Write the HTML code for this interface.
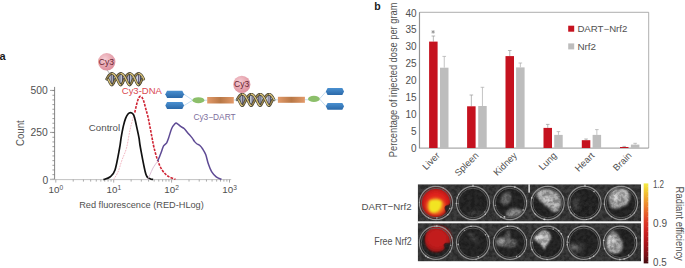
<!DOCTYPE html>
<html><head><meta charset="utf-8"><style>
html,body{margin:0;padding:0;background:#fff;width:685px;height:268px;overflow:hidden;}
svg{display:block;}
text{font-family:"Liberation Sans", sans-serif;}
</style></head><body>
<svg width="685" height="268" viewBox="0 0 685 268">
<text x="-0.6" y="59.6" font-size="11" font-weight="bold" fill="#1a1a1a">a</text>
<line x1="54.6" y1="86.9" x2="54.6" y2="179.6" stroke="#666" stroke-width="0.8"/>
<line x1="52.4" y1="179.30" x2="54.6" y2="179.30" stroke="#777" stroke-width="0.7"/>
<line x1="52.4" y1="174.63" x2="54.6" y2="174.63" stroke="#777" stroke-width="0.7"/>
<line x1="52.4" y1="169.96" x2="54.6" y2="169.96" stroke="#777" stroke-width="0.7"/>
<line x1="52.4" y1="165.29" x2="54.6" y2="165.29" stroke="#777" stroke-width="0.7"/>
<line x1="52.4" y1="160.62" x2="54.6" y2="160.62" stroke="#777" stroke-width="0.7"/>
<line x1="52.4" y1="155.95" x2="54.6" y2="155.95" stroke="#777" stroke-width="0.7"/>
<line x1="52.4" y1="151.28" x2="54.6" y2="151.28" stroke="#777" stroke-width="0.7"/>
<line x1="52.4" y1="146.61" x2="54.6" y2="146.61" stroke="#777" stroke-width="0.7"/>
<line x1="52.4" y1="141.94" x2="54.6" y2="141.94" stroke="#777" stroke-width="0.7"/>
<line x1="52.4" y1="137.27" x2="54.6" y2="137.27" stroke="#777" stroke-width="0.7"/>
<line x1="52.4" y1="132.60" x2="54.6" y2="132.60" stroke="#777" stroke-width="0.7"/>
<line x1="52.4" y1="127.93" x2="54.6" y2="127.93" stroke="#777" stroke-width="0.7"/>
<line x1="52.4" y1="123.26" x2="54.6" y2="123.26" stroke="#777" stroke-width="0.7"/>
<line x1="52.4" y1="118.59" x2="54.6" y2="118.59" stroke="#777" stroke-width="0.7"/>
<line x1="52.4" y1="113.92" x2="54.6" y2="113.92" stroke="#777" stroke-width="0.7"/>
<line x1="52.4" y1="109.25" x2="54.6" y2="109.25" stroke="#777" stroke-width="0.7"/>
<line x1="52.4" y1="104.58" x2="54.6" y2="104.58" stroke="#777" stroke-width="0.7"/>
<line x1="52.4" y1="99.91" x2="54.6" y2="99.91" stroke="#777" stroke-width="0.7"/>
<line x1="52.4" y1="95.24" x2="54.6" y2="95.24" stroke="#777" stroke-width="0.7"/>
<line x1="52.4" y1="90.57" x2="54.6" y2="90.57" stroke="#777" stroke-width="0.7"/>
<line x1="50.0" y1="90.40" x2="54.6" y2="90.40" stroke="#777" stroke-width="0.7"/>
<line x1="50.0" y1="132.40" x2="54.6" y2="132.40" stroke="#777" stroke-width="0.7"/>
<line x1="50.0" y1="179.30" x2="54.6" y2="179.30" stroke="#777" stroke-width="0.7"/>
<text x="47.8" y="94.0" font-size="10.3" fill="#505050" text-anchor="end" textLength="17.2" lengthAdjust="spacingAndGlyphs">500</text>
<text x="47.8" y="136.4" font-size="10.3" fill="#505050" text-anchor="end" textLength="17.2" lengthAdjust="spacingAndGlyphs">250</text>
<text x="48.2" y="183.5" font-size="10.3" fill="#505050" text-anchor="end">0</text>
<text transform="translate(23.9,133.1) rotate(-90)" font-size="10.3" fill="#505050" text-anchor="middle" textLength="25.8" lengthAdjust="spacingAndGlyphs">Count</text>
<line x1="50" y1="179.6" x2="231.2" y2="179.6" stroke="#bbb" stroke-width="0.9"/>
<line x1="55.80" y1="179.6" x2="55.80" y2="182.60" stroke="#888" stroke-width="0.7"/>
<line x1="73.23" y1="179.6" x2="73.23" y2="181.60" stroke="#888" stroke-width="0.7"/>
<line x1="83.43" y1="179.6" x2="83.43" y2="181.60" stroke="#888" stroke-width="0.7"/>
<line x1="90.66" y1="179.6" x2="90.66" y2="181.60" stroke="#888" stroke-width="0.7"/>
<line x1="96.27" y1="179.6" x2="96.27" y2="181.60" stroke="#888" stroke-width="0.7"/>
<line x1="100.85" y1="179.6" x2="100.85" y2="181.60" stroke="#888" stroke-width="0.7"/>
<line x1="104.73" y1="179.6" x2="104.73" y2="181.60" stroke="#888" stroke-width="0.7"/>
<line x1="108.09" y1="179.6" x2="108.09" y2="181.60" stroke="#888" stroke-width="0.7"/>
<line x1="111.05" y1="179.6" x2="111.05" y2="181.60" stroke="#888" stroke-width="0.7"/>
<line x1="113.70" y1="179.6" x2="113.70" y2="182.60" stroke="#888" stroke-width="0.7"/>
<line x1="131.13" y1="179.6" x2="131.13" y2="181.60" stroke="#888" stroke-width="0.7"/>
<line x1="141.33" y1="179.6" x2="141.33" y2="181.60" stroke="#888" stroke-width="0.7"/>
<line x1="148.56" y1="179.6" x2="148.56" y2="181.60" stroke="#888" stroke-width="0.7"/>
<line x1="154.17" y1="179.6" x2="154.17" y2="181.60" stroke="#888" stroke-width="0.7"/>
<line x1="158.75" y1="179.6" x2="158.75" y2="181.60" stroke="#888" stroke-width="0.7"/>
<line x1="162.63" y1="179.6" x2="162.63" y2="181.60" stroke="#888" stroke-width="0.7"/>
<line x1="165.99" y1="179.6" x2="165.99" y2="181.60" stroke="#888" stroke-width="0.7"/>
<line x1="168.95" y1="179.6" x2="168.95" y2="181.60" stroke="#888" stroke-width="0.7"/>
<line x1="171.60" y1="179.6" x2="171.60" y2="182.60" stroke="#888" stroke-width="0.7"/>
<line x1="189.03" y1="179.6" x2="189.03" y2="181.60" stroke="#888" stroke-width="0.7"/>
<line x1="199.23" y1="179.6" x2="199.23" y2="181.60" stroke="#888" stroke-width="0.7"/>
<line x1="206.46" y1="179.6" x2="206.46" y2="181.60" stroke="#888" stroke-width="0.7"/>
<line x1="212.07" y1="179.6" x2="212.07" y2="181.60" stroke="#888" stroke-width="0.7"/>
<line x1="216.65" y1="179.6" x2="216.65" y2="181.60" stroke="#888" stroke-width="0.7"/>
<line x1="220.53" y1="179.6" x2="220.53" y2="181.60" stroke="#888" stroke-width="0.7"/>
<line x1="223.89" y1="179.6" x2="223.89" y2="181.60" stroke="#888" stroke-width="0.7"/>
<line x1="226.85" y1="179.6" x2="226.85" y2="181.60" stroke="#888" stroke-width="0.7"/>
<line x1="229.50" y1="179.6" x2="229.50" y2="182.6" stroke="#888" stroke-width="0.7"/>
<text x="54.00" y="193.4" font-size="9.8" fill="#505050" text-anchor="middle">10</text>
<text x="59.50" y="190.0" font-size="6.6" fill="#505050">0</text>
<text x="111.90" y="193.4" font-size="9.8" fill="#505050" text-anchor="middle">10</text>
<text x="117.40" y="190.0" font-size="6.6" fill="#505050">1</text>
<text x="169.80" y="193.4" font-size="9.8" fill="#505050" text-anchor="middle">10</text>
<text x="175.30" y="190.0" font-size="6.6" fill="#505050">2</text>
<text x="227.70" y="193.4" font-size="9.8" fill="#505050" text-anchor="middle">10</text>
<text x="233.20" y="190.0" font-size="6.6" fill="#505050">3</text>
<text x="79.2" y="207.7" font-size="9.6" fill="#505050" textLength="124.6" lengthAdjust="spacingAndGlyphs">Red fluorescence (RED-HLog)</text>
<path d="M113.50,179.60 C114.25,178.33 116.58,175.27 118.00,172.00 C119.42,168.73 120.58,164.00 122.00,160.00 C123.42,156.00 125.17,153.00 126.50,148.00 C127.83,143.00 128.88,135.08 130.00,130.00 C131.12,124.92 132.40,120.42 133.20,117.50 C134.00,114.58 134.53,113.33 134.80,112.50" fill="none" stroke="#f0b0bc" stroke-width="0.9" stroke-dasharray="1.8 1.0"/>
<path d="M134.80,112.50 C135.10,111.17 136.00,106.82 136.60,104.50 C137.20,102.18 137.80,99.95 138.40,98.60 C139.00,97.25 139.57,96.53 140.20,96.40 C140.83,96.27 141.57,96.87 142.20,97.80 C142.83,98.73 143.42,100.22 144.00,102.00 C144.58,103.78 145.03,106.00 145.70,108.50 C146.37,111.00 147.28,113.92 148.00,117.00 C148.72,120.08 149.33,123.58 150.00,127.00 C150.67,130.42 151.33,134.07 152.00,137.50 C152.67,140.93 153.05,143.77 154.00,147.60 C154.95,151.43 156.32,156.72 157.70,160.50 C159.08,164.28 160.53,167.67 162.30,170.30 C164.07,172.93 166.10,174.80 168.30,176.30 C170.50,177.80 174.30,178.80 175.50,179.30" fill="none" stroke="#cf2232" stroke-width="1.6" stroke-dasharray="2.6 1.2"/>
<path d="M103.40,179.60 C104.50,179.17 108.07,178.60 110.00,177.00 C111.93,175.40 113.40,174.83 115.00,170.00 C116.60,165.17 118.58,153.35 119.60,148.00 C120.62,142.65 120.47,141.58 121.10,137.90 C121.73,134.22 122.65,129.15 123.40,125.90 C124.15,122.65 124.83,120.38 125.60,118.40 C126.37,116.42 127.18,114.97 128.00,114.00 C128.82,113.03 129.67,112.60 130.50,112.60 C131.33,112.60 132.32,113.15 133.00,114.00 C133.68,114.85 133.97,115.47 134.60,117.70 C135.23,119.93 136.07,124.03 136.80,127.40 C137.53,130.77 138.38,134.47 139.00,137.90 C139.62,141.33 139.35,141.93 140.50,148.00 C141.65,154.07 144.32,169.20 145.90,174.30 C147.48,179.40 148.80,177.73 150.00,178.60 C151.20,179.47 152.58,179.35 153.10,179.50" fill="none" stroke="#111" stroke-width="1.7"/>
<path d="M147.20,179.60 C147.65,178.82 148.93,176.83 149.90,174.90 C150.87,172.97 151.70,170.30 153.00,168.00 C154.30,165.70 156.92,162.25 157.70,161.10" fill="none" stroke="#dcbfd6" stroke-width="1.0"/>
<path d="M157.70,161.10 C158.08,160.17 159.33,157.20 160.00,155.50 C160.67,153.80 161.10,152.50 161.70,150.90 C162.30,149.30 162.77,147.25 163.60,145.90 C164.43,144.55 165.87,144.13 166.70,142.80 C167.53,141.47 167.77,140.28 168.60,137.90 C169.43,135.52 170.67,130.82 171.70,128.50 C172.73,126.18 173.98,124.88 174.80,124.00 C175.62,123.12 175.57,122.75 176.60,123.20 C177.63,123.65 179.75,125.82 181.00,126.70 C182.25,127.58 182.97,127.47 184.10,128.50 C185.23,129.53 186.47,131.33 187.80,132.90 C189.13,134.47 190.97,136.45 192.10,137.90 C193.23,139.35 193.77,140.58 194.60,141.60 C195.43,142.62 196.27,143.38 197.10,144.00 C197.93,144.62 198.67,144.47 199.60,145.30 C200.53,146.13 201.68,147.45 202.70,149.00 C203.72,150.55 204.77,152.13 205.70,154.60 C206.63,157.07 207.32,160.95 208.30,163.80 C209.28,166.65 210.28,169.52 211.60,171.70 C212.92,173.88 214.55,175.62 216.20,176.90 C217.85,178.18 220.62,178.98 221.50,179.40" fill="none" stroke="#5e4a94" stroke-width="1.5"/>
<text x="88.8" y="130.9" font-size="9.7" fill="#505050" textLength="31.4" lengthAdjust="spacingAndGlyphs">Control</text>
<text x="121.8" y="94.0" font-size="8.6" fill="#d9474f" textLength="40" lengthAdjust="spacingAndGlyphs">Cy3-DNA</text>
<text x="193.4" y="119.6" font-size="8.6" fill="#7d6e9c" textLength="42.2" lengthAdjust="spacingAndGlyphs">Cy3−DART</text>
<line x1="108.29" y1="77.44" x2="108.29" y2="80.96" stroke="#454c60" stroke-width="1.3"/><line x1="110.07" y1="74.59" x2="110.07" y2="83.81" stroke="#848ca4" stroke-width="1.3"/><line x1="111.85" y1="73.50" x2="111.85" y2="84.90" stroke="#565068" stroke-width="1.3"/><line x1="113.63" y1="74.59" x2="113.63" y2="83.81" stroke="#48546c" stroke-width="1.3"/><line x1="115.41" y1="77.44" x2="115.41" y2="80.96" stroke="#aab2c6" stroke-width="1.3"/><line x1="117.19" y1="80.96" x2="117.19" y2="77.44" stroke="#645a7a" stroke-width="1.3"/><line x1="118.97" y1="83.81" x2="118.97" y2="74.59" stroke="#454c60" stroke-width="1.3"/><line x1="120.75" y1="84.90" x2="120.75" y2="73.50" stroke="#848ca4" stroke-width="1.3"/><line x1="122.53" y1="83.81" x2="122.53" y2="74.59" stroke="#565068" stroke-width="1.3"/><line x1="124.31" y1="80.96" x2="124.31" y2="77.44" stroke="#48546c" stroke-width="1.3"/><line x1="126.09" y1="77.44" x2="126.09" y2="80.96" stroke="#aab2c6" stroke-width="1.3"/><line x1="127.87" y1="74.59" x2="127.87" y2="83.81" stroke="#645a7a" stroke-width="1.3"/><line x1="129.65" y1="73.50" x2="129.65" y2="84.90" stroke="#454c60" stroke-width="1.3"/><line x1="131.43" y1="74.59" x2="131.43" y2="83.81" stroke="#848ca4" stroke-width="1.3"/><line x1="133.21" y1="77.44" x2="133.21" y2="80.96" stroke="#565068" stroke-width="1.3"/><line x1="134.99" y1="80.96" x2="134.99" y2="77.44" stroke="#48546c" stroke-width="1.3"/><line x1="136.77" y1="83.81" x2="136.77" y2="74.59" stroke="#aab2c6" stroke-width="1.3"/><line x1="138.55" y1="84.90" x2="138.55" y2="73.50" stroke="#645a7a" stroke-width="1.3"/><line x1="140.33" y1="83.81" x2="140.33" y2="74.59" stroke="#454c60" stroke-width="1.3"/><line x1="142.11" y1="80.96" x2="142.11" y2="77.44" stroke="#848ca4" stroke-width="1.3"/><path d="M106.60,79.20 L106.75,78.90 L106.90,78.60 L107.05,78.31 L107.21,78.01 L107.37,77.72 L107.53,77.44 L107.69,77.16 L107.86,76.88 L108.02,76.61 L108.19,76.35 L108.36,76.10 L108.53,75.85 L108.71,75.61 L108.88,75.39 L109.06,75.17 L109.24,74.96 L109.42,74.77 L109.60,74.59 L109.78,74.42 L109.97,74.26 L110.15,74.12 L110.34,73.99 L110.52,73.88 L110.71,73.78 L110.90,73.69 L111.09,73.62 L111.28,73.57 L111.47,73.53 L111.66,73.51 L111.85,73.50 L112.04,73.51" fill="none" stroke="#3a382e" stroke-width="2.6" stroke-linecap="round"/><path d="M106.60,79.20 L106.75,78.90 L106.90,78.60 L107.05,78.31 L107.21,78.01 L107.37,77.72 L107.53,77.44 L107.69,77.16 L107.86,76.88 L108.02,76.61 L108.19,76.35 L108.36,76.10 L108.53,75.85 L108.71,75.61 L108.88,75.39 L109.06,75.17 L109.24,74.96 L109.42,74.77 L109.60,74.59 L109.78,74.42 L109.97,74.26 L110.15,74.12 L110.34,73.99 L110.52,73.88 L110.71,73.78 L110.90,73.69 L111.09,73.62 L111.28,73.57 L111.47,73.53 L111.66,73.51 L111.85,73.50 L112.04,73.51" fill="none" stroke="#a08a50" stroke-width="1.4" stroke-linecap="round"/><path d="M120.86,84.89 L120.96,84.87 L121.07,84.83 L121.18,84.78 L121.28,84.71 L121.39,84.62 L121.50,84.52 L121.61,84.41 L121.72,84.28 L121.83,84.14 L121.95,83.98 L122.06,83.81 L122.18,83.63 L122.29,83.44 L122.41,83.23 L122.53,83.01 L122.65,82.79 L122.77,82.55 L122.90,82.30 L123.03,82.05 L123.15,81.79 L123.28,81.52 L123.42,81.24 L123.55,80.96 L123.69,80.68 L123.83,80.39 L123.97,80.09 L124.11,79.80 L124.25,79.50 L124.40,79.20 L124.55,78.90 L124.70,78.60 L124.86,78.31 L125.01,78.01 L125.17,77.72 L125.33,77.44 L125.49,77.16 L125.66,76.88 L125.82,76.61 L125.99,76.35 L126.16,76.10 L126.33,75.85 L126.51,75.61 L126.68,75.39 L126.86,75.17 L127.04,74.96 L127.22,74.77 L127.40,74.59 L127.58,74.42 L127.77,74.26 L127.95,74.12 L128.14,73.99 L128.33,73.88 L128.51,73.78 L128.70,73.69 L128.89,73.62 L129.08,73.57 L129.27,73.53 L129.46,73.51 L129.65,73.50 L129.84,73.51" fill="none" stroke="#3a382e" stroke-width="2.6" stroke-linecap="round"/><path d="M120.86,84.89 L120.96,84.87 L121.07,84.83 L121.18,84.78 L121.28,84.71 L121.39,84.62 L121.50,84.52 L121.61,84.41 L121.72,84.28 L121.83,84.14 L121.95,83.98 L122.06,83.81 L122.18,83.63 L122.29,83.44 L122.41,83.23 L122.53,83.01 L122.65,82.79 L122.77,82.55 L122.90,82.30 L123.03,82.05 L123.15,81.79 L123.28,81.52 L123.42,81.24 L123.55,80.96 L123.69,80.68 L123.83,80.39 L123.97,80.09 L124.11,79.80 L124.25,79.50 L124.40,79.20 L124.55,78.90 L124.70,78.60 L124.86,78.31 L125.01,78.01 L125.17,77.72 L125.33,77.44 L125.49,77.16 L125.66,76.88 L125.82,76.61 L125.99,76.35 L126.16,76.10 L126.33,75.85 L126.51,75.61 L126.68,75.39 L126.86,75.17 L127.04,74.96 L127.22,74.77 L127.40,74.59 L127.58,74.42 L127.77,74.26 L127.95,74.12 L128.14,73.99 L128.33,73.88 L128.51,73.78 L128.70,73.69 L128.89,73.62 L129.08,73.57 L129.27,73.53 L129.46,73.51 L129.65,73.50 L129.84,73.51" fill="none" stroke="#a08a50" stroke-width="1.4" stroke-linecap="round"/><path d="M138.66,84.89 L138.76,84.87 L138.87,84.83 L138.98,84.78 L139.09,84.71 L139.20,84.62 L139.30,84.52 L139.41,84.41 L139.52,84.28 L139.64,84.14 L139.75,83.98 L139.86,83.81 L139.98,83.63 L140.09,83.44 L140.21,83.23 L140.33,83.01 L140.45,82.79 L140.58,82.55 L140.70,82.30 L140.83,82.05 L140.96,81.79 L141.09,81.52 L141.22,81.24 L141.35,80.96 L141.49,80.68 L141.63,80.39 L141.77,80.09 L141.91,79.80 L142.06,79.50 L142.20,79.20" fill="none" stroke="#3a382e" stroke-width="2.6" stroke-linecap="round"/><path d="M138.66,84.89 L138.76,84.87 L138.87,84.83 L138.98,84.78 L139.09,84.71 L139.20,84.62 L139.30,84.52 L139.41,84.41 L139.52,84.28 L139.64,84.14 L139.75,83.98 L139.86,83.81 L139.98,83.63 L140.09,83.44 L140.21,83.23 L140.33,83.01 L140.45,82.79 L140.58,82.55 L140.70,82.30 L140.83,82.05 L140.96,81.79 L141.09,81.52 L141.22,81.24 L141.35,80.96 L141.49,80.68 L141.63,80.39 L141.77,80.09 L141.91,79.80 L142.06,79.50 L142.20,79.20" fill="none" stroke="#a08a50" stroke-width="1.4" stroke-linecap="round"/><path d="M111.96,84.89 L112.06,84.87 L112.17,84.83 L112.28,84.78 L112.38,84.71 L112.49,84.62 L112.60,84.52 L112.71,84.41 L112.82,84.28 L112.93,84.14 L113.05,83.98 L113.16,83.81 L113.27,83.63 L113.39,83.44 L113.51,83.23 L113.63,83.01 L113.75,82.79 L113.87,82.55 L114.00,82.30 L114.12,82.05 L114.25,81.79 L114.38,81.52 L114.52,81.24 L114.65,80.96 L114.79,80.68 L114.93,80.39 L115.07,80.09 L115.21,79.80 L115.35,79.50 L115.50,79.20 L115.65,78.90 L115.80,78.60 L115.96,78.31 L116.11,78.01 L116.27,77.72 L116.43,77.44 L116.59,77.16 L116.76,76.88 L116.92,76.61 L117.09,76.35 L117.26,76.10 L117.43,75.85 L117.61,75.61 L117.78,75.39 L117.96,75.17 L118.14,74.96 L118.32,74.77 L118.50,74.59 L118.68,74.42 L118.87,74.26 L119.05,74.12 L119.24,73.99 L119.43,73.88 L119.61,73.78 L119.80,73.69 L119.99,73.62 L120.18,73.57 L120.37,73.53 L120.56,73.51 L120.75,73.50 L120.94,73.51" fill="none" stroke="#3a382e" stroke-width="2.6" stroke-linecap="round"/><path d="M111.96,84.89 L112.06,84.87 L112.17,84.83 L112.28,84.78 L112.38,84.71 L112.49,84.62 L112.60,84.52 L112.71,84.41 L112.82,84.28 L112.93,84.14 L113.05,83.98 L113.16,83.81 L113.27,83.63 L113.39,83.44 L113.51,83.23 L113.63,83.01 L113.75,82.79 L113.87,82.55 L114.00,82.30 L114.12,82.05 L114.25,81.79 L114.38,81.52 L114.52,81.24 L114.65,80.96 L114.79,80.68 L114.93,80.39 L115.07,80.09 L115.21,79.80 L115.35,79.50 L115.50,79.20 L115.65,78.90 L115.80,78.60 L115.96,78.31 L116.11,78.01 L116.27,77.72 L116.43,77.44 L116.59,77.16 L116.76,76.88 L116.92,76.61 L117.09,76.35 L117.26,76.10 L117.43,75.85 L117.61,75.61 L117.78,75.39 L117.96,75.17 L118.14,74.96 L118.32,74.77 L118.50,74.59 L118.68,74.42 L118.87,74.26 L119.05,74.12 L119.24,73.99 L119.43,73.88 L119.61,73.78 L119.80,73.69 L119.99,73.62 L120.18,73.57 L120.37,73.53 L120.56,73.51 L120.75,73.50 L120.94,73.51" fill="none" stroke="#a08a50" stroke-width="1.4" stroke-linecap="round"/><path d="M129.76,84.89 L129.86,84.87 L129.97,84.83 L130.08,84.78 L130.19,84.71 L130.29,84.62 L130.40,84.52 L130.51,84.41 L130.62,84.28 L130.74,84.14 L130.85,83.98 L130.96,83.81 L131.08,83.63 L131.19,83.44 L131.31,83.23 L131.43,83.01 L131.55,82.79 L131.68,82.55 L131.80,82.30 L131.93,82.05 L132.05,81.79 L132.19,81.52 L132.32,81.24 L132.45,80.96 L132.59,80.68 L132.73,80.39 L132.87,80.09 L133.01,79.80 L133.16,79.50 L133.30,79.20 L133.45,78.90 L133.60,78.60 L133.76,78.31 L133.91,78.01 L134.07,77.72 L134.23,77.44 L134.39,77.16 L134.56,76.88 L134.73,76.61 L134.89,76.35 L135.06,76.10 L135.24,75.85 L135.41,75.61 L135.58,75.39 L135.76,75.17 L135.94,74.96 L136.12,74.77 L136.30,74.59 L136.49,74.42 L136.67,74.26 L136.85,74.12 L137.04,73.99 L137.23,73.88 L137.41,73.78 L137.60,73.69 L137.79,73.62 L137.98,73.57 L138.17,73.53 L138.36,73.51 L138.55,73.50 L138.74,73.51" fill="none" stroke="#3a382e" stroke-width="2.6" stroke-linecap="round"/><path d="M129.76,84.89 L129.86,84.87 L129.97,84.83 L130.08,84.78 L130.19,84.71 L130.29,84.62 L130.40,84.52 L130.51,84.41 L130.62,84.28 L130.74,84.14 L130.85,83.98 L130.96,83.81 L131.08,83.63 L131.19,83.44 L131.31,83.23 L131.43,83.01 L131.55,82.79 L131.68,82.55 L131.80,82.30 L131.93,82.05 L132.05,81.79 L132.19,81.52 L132.32,81.24 L132.45,80.96 L132.59,80.68 L132.73,80.39 L132.87,80.09 L133.01,79.80 L133.16,79.50 L133.30,79.20 L133.45,78.90 L133.60,78.60 L133.76,78.31 L133.91,78.01 L134.07,77.72 L134.23,77.44 L134.39,77.16 L134.56,76.88 L134.73,76.61 L134.89,76.35 L135.06,76.10 L135.24,75.85 L135.41,75.61 L135.58,75.39 L135.76,75.17 L135.94,74.96 L136.12,74.77 L136.30,74.59 L136.49,74.42 L136.67,74.26 L136.85,74.12 L137.04,73.99 L137.23,73.88 L137.41,73.78 L137.60,73.69 L137.79,73.62 L137.98,73.57 L138.17,73.53 L138.36,73.51 L138.55,73.50 L138.74,73.51" fill="none" stroke="#a08a50" stroke-width="1.4" stroke-linecap="round"/><path d="M112.04,73.51 L112.23,73.53 L112.42,73.57 L112.61,73.62 L112.80,73.69 L112.99,73.78 L113.17,73.88 L113.36,73.99 L113.55,74.12 L113.73,74.26 L113.91,74.42 L114.10,74.59 L114.28,74.77 L114.46,74.96 L114.64,75.17 L114.82,75.39 L114.99,75.61 L115.16,75.85 L115.34,76.10 L115.51,76.35 L115.67,76.61 L115.84,76.88 L116.01,77.16 L116.17,77.44 L116.33,77.72 L116.49,78.01 L116.64,78.31 L116.80,78.60 L116.95,78.90 L117.10,79.20 L117.24,79.50 L117.39,79.80 L117.53,80.09 L117.67,80.39 L117.81,80.68 L117.95,80.96 L118.08,81.24 L118.21,81.52 L118.35,81.79 L118.47,82.05 L118.60,82.30 L118.72,82.55 L118.85,82.79 L118.97,83.01 L119.09,83.23 L119.21,83.44 L119.32,83.63 L119.44,83.81 L119.55,83.98 L119.67,84.14 L119.78,84.28 L119.89,84.41 L120.00,84.52 L120.11,84.62 L120.21,84.71 L120.32,84.78 L120.43,84.83 L120.54,84.87 L120.64,84.89 L120.75,84.90 L120.86,84.89" fill="none" stroke="#3a382e" stroke-width="2.6" stroke-linecap="round"/><path d="M112.04,73.51 L112.23,73.53 L112.42,73.57 L112.61,73.62 L112.80,73.69 L112.99,73.78 L113.17,73.88 L113.36,73.99 L113.55,74.12 L113.73,74.26 L113.91,74.42 L114.10,74.59 L114.28,74.77 L114.46,74.96 L114.64,75.17 L114.82,75.39 L114.99,75.61 L115.16,75.85 L115.34,76.10 L115.51,76.35 L115.67,76.61 L115.84,76.88 L116.01,77.16 L116.17,77.44 L116.33,77.72 L116.49,78.01 L116.64,78.31 L116.80,78.60 L116.95,78.90 L117.10,79.20 L117.24,79.50 L117.39,79.80 L117.53,80.09 L117.67,80.39 L117.81,80.68 L117.95,80.96 L118.08,81.24 L118.21,81.52 L118.35,81.79 L118.47,82.05 L118.60,82.30 L118.72,82.55 L118.85,82.79 L118.97,83.01 L119.09,83.23 L119.21,83.44 L119.32,83.63 L119.44,83.81 L119.55,83.98 L119.67,84.14 L119.78,84.28 L119.89,84.41 L120.00,84.52 L120.11,84.62 L120.21,84.71 L120.32,84.78 L120.43,84.83 L120.54,84.87 L120.64,84.89 L120.75,84.90 L120.86,84.89" fill="none" stroke="#dcc57a" stroke-width="1.4" stroke-linecap="round"/><path d="M129.84,73.51 L130.03,73.53 L130.22,73.57 L130.41,73.62 L130.60,73.69 L130.79,73.78 L130.97,73.88 L131.16,73.99 L131.35,74.12 L131.53,74.26 L131.72,74.42 L131.90,74.59 L132.08,74.77 L132.26,74.96 L132.44,75.17 L132.62,75.39 L132.79,75.61 L132.97,75.85 L133.14,76.10 L133.31,76.35 L133.48,76.61 L133.64,76.88 L133.81,77.16 L133.97,77.44 L134.13,77.72 L134.29,78.01 L134.44,78.31 L134.60,78.60 L134.75,78.90 L134.90,79.20 L135.05,79.50 L135.19,79.80 L135.33,80.09 L135.47,80.39 L135.61,80.68 L135.75,80.96 L135.88,81.24 L136.02,81.52 L136.15,81.79 L136.28,82.05 L136.40,82.30 L136.53,82.55 L136.65,82.79 L136.77,83.01 L136.89,83.23 L137.01,83.44 L137.13,83.63 L137.24,83.81 L137.35,83.98 L137.47,84.14 L137.58,84.28 L137.69,84.41 L137.80,84.52 L137.91,84.62 L138.02,84.71 L138.12,84.78 L138.23,84.83 L138.34,84.87 L138.44,84.89 L138.55,84.90 L138.66,84.89" fill="none" stroke="#3a382e" stroke-width="2.6" stroke-linecap="round"/><path d="M129.84,73.51 L130.03,73.53 L130.22,73.57 L130.41,73.62 L130.60,73.69 L130.79,73.78 L130.97,73.88 L131.16,73.99 L131.35,74.12 L131.53,74.26 L131.72,74.42 L131.90,74.59 L132.08,74.77 L132.26,74.96 L132.44,75.17 L132.62,75.39 L132.79,75.61 L132.97,75.85 L133.14,76.10 L133.31,76.35 L133.48,76.61 L133.64,76.88 L133.81,77.16 L133.97,77.44 L134.13,77.72 L134.29,78.01 L134.44,78.31 L134.60,78.60 L134.75,78.90 L134.90,79.20 L135.05,79.50 L135.19,79.80 L135.33,80.09 L135.47,80.39 L135.61,80.68 L135.75,80.96 L135.88,81.24 L136.02,81.52 L136.15,81.79 L136.28,82.05 L136.40,82.30 L136.53,82.55 L136.65,82.79 L136.77,83.01 L136.89,83.23 L137.01,83.44 L137.13,83.63 L137.24,83.81 L137.35,83.98 L137.47,84.14 L137.58,84.28 L137.69,84.41 L137.80,84.52 L137.91,84.62 L138.02,84.71 L138.12,84.78 L138.23,84.83 L138.34,84.87 L138.44,84.89 L138.55,84.90 L138.66,84.89" fill="none" stroke="#dcc57a" stroke-width="1.4" stroke-linecap="round"/><path d="M108.20,79.20 L108.34,79.50 L108.49,79.80 L108.63,80.09 L108.77,80.39 L108.91,80.68 L109.05,80.96 L109.18,81.24 L109.31,81.52 L109.44,81.79 L109.57,82.05 L109.70,82.30 L109.82,82.55 L109.95,82.79 L110.07,83.01 L110.19,83.23 L110.31,83.44 L110.42,83.63 L110.54,83.81 L110.65,83.98 L110.76,84.14 L110.88,84.28 L110.99,84.41 L111.10,84.52 L111.20,84.62 L111.31,84.71 L111.42,84.78 L111.53,84.83 L111.64,84.87 L111.74,84.89 L111.85,84.90 L111.96,84.89" fill="none" stroke="#3a382e" stroke-width="2.6" stroke-linecap="round"/><path d="M108.20,79.20 L108.34,79.50 L108.49,79.80 L108.63,80.09 L108.77,80.39 L108.91,80.68 L109.05,80.96 L109.18,81.24 L109.31,81.52 L109.44,81.79 L109.57,82.05 L109.70,82.30 L109.82,82.55 L109.95,82.79 L110.07,83.01 L110.19,83.23 L110.31,83.44 L110.42,83.63 L110.54,83.81 L110.65,83.98 L110.76,84.14 L110.88,84.28 L110.99,84.41 L111.10,84.52 L111.20,84.62 L111.31,84.71 L111.42,84.78 L111.53,84.83 L111.64,84.87 L111.74,84.89 L111.85,84.90 L111.96,84.89" fill="none" stroke="#dcc57a" stroke-width="1.4" stroke-linecap="round"/><path d="M120.94,73.51 L121.13,73.53 L121.32,73.57 L121.51,73.62 L121.70,73.69 L121.89,73.78 L122.07,73.88 L122.26,73.99 L122.45,74.12 L122.63,74.26 L122.82,74.42 L123.00,74.59 L123.18,74.77 L123.36,74.96 L123.54,75.17 L123.72,75.39 L123.89,75.61 L124.07,75.85 L124.24,76.10 L124.41,76.35 L124.58,76.61 L124.74,76.88 L124.91,77.16 L125.07,77.44 L125.23,77.72 L125.39,78.01 L125.54,78.31 L125.70,78.60 L125.85,78.90 L126.00,79.20 L126.15,79.50 L126.29,79.80 L126.43,80.09 L126.57,80.39 L126.71,80.68 L126.85,80.96 L126.98,81.24 L127.12,81.52 L127.25,81.79 L127.37,82.05 L127.50,82.30 L127.63,82.55 L127.75,82.79 L127.87,83.01 L127.99,83.23 L128.11,83.44 L128.22,83.63 L128.34,83.81 L128.45,83.98 L128.57,84.14 L128.68,84.28 L128.79,84.41 L128.90,84.52 L129.01,84.62 L129.12,84.71 L129.22,84.78 L129.33,84.83 L129.44,84.87 L129.54,84.89 L129.65,84.90 L129.76,84.89" fill="none" stroke="#3a382e" stroke-width="2.6" stroke-linecap="round"/><path d="M120.94,73.51 L121.13,73.53 L121.32,73.57 L121.51,73.62 L121.70,73.69 L121.89,73.78 L122.07,73.88 L122.26,73.99 L122.45,74.12 L122.63,74.26 L122.82,74.42 L123.00,74.59 L123.18,74.77 L123.36,74.96 L123.54,75.17 L123.72,75.39 L123.89,75.61 L124.07,75.85 L124.24,76.10 L124.41,76.35 L124.58,76.61 L124.74,76.88 L124.91,77.16 L125.07,77.44 L125.23,77.72 L125.39,78.01 L125.54,78.31 L125.70,78.60 L125.85,78.90 L126.00,79.20 L126.15,79.50 L126.29,79.80 L126.43,80.09 L126.57,80.39 L126.71,80.68 L126.85,80.96 L126.98,81.24 L127.12,81.52 L127.25,81.79 L127.37,82.05 L127.50,82.30 L127.63,82.55 L127.75,82.79 L127.87,83.01 L127.99,83.23 L128.11,83.44 L128.22,83.63 L128.34,83.81 L128.45,83.98 L128.57,84.14 L128.68,84.28 L128.79,84.41 L128.90,84.52 L129.01,84.62 L129.12,84.71 L129.22,84.78 L129.33,84.83 L129.44,84.87 L129.54,84.89 L129.65,84.90 L129.76,84.89" fill="none" stroke="#dcc57a" stroke-width="1.4" stroke-linecap="round"/><path d="M138.74,73.51 L138.93,73.53 L139.12,73.57 L139.31,73.62 L139.50,73.69 L139.69,73.78 L139.88,73.88 L140.06,73.99 L140.25,74.12 L140.43,74.26 L140.62,74.42 L140.80,74.59 L140.98,74.77 L141.16,74.96 L141.34,75.17 L141.52,75.39 L141.69,75.61 L141.87,75.85 L142.04,76.10 L142.21,76.35 L142.38,76.61 L142.54,76.88 L142.71,77.16 L142.87,77.44 L143.03,77.72 L143.19,78.01 L143.35,78.31 L143.50,78.60 L143.65,78.90 L143.80,79.20" fill="none" stroke="#3a382e" stroke-width="2.6" stroke-linecap="round"/><path d="M138.74,73.51 L138.93,73.53 L139.12,73.57 L139.31,73.62 L139.50,73.69 L139.69,73.78 L139.88,73.88 L140.06,73.99 L140.25,74.12 L140.43,74.26 L140.62,74.42 L140.80,74.59 L140.98,74.77 L141.16,74.96 L141.34,75.17 L141.52,75.39 L141.69,75.61 L141.87,75.85 L142.04,76.10 L142.21,76.35 L142.38,76.61 L142.54,76.88 L142.71,77.16 L142.87,77.44 L143.03,77.72 L143.19,78.01 L143.35,78.31 L143.50,78.60 L143.65,78.90 L143.80,79.20" fill="none" stroke="#dcc57a" stroke-width="1.4" stroke-linecap="round"/>
<line x1="238.69" y1="98.14" x2="238.69" y2="101.66" stroke="#454c60" stroke-width="1.3"/><line x1="240.47" y1="95.29" x2="240.47" y2="104.51" stroke="#848ca4" stroke-width="1.3"/><line x1="242.25" y1="94.20" x2="242.25" y2="105.60" stroke="#565068" stroke-width="1.3"/><line x1="244.03" y1="95.29" x2="244.03" y2="104.51" stroke="#48546c" stroke-width="1.3"/><line x1="245.81" y1="98.14" x2="245.81" y2="101.66" stroke="#aab2c6" stroke-width="1.3"/><line x1="247.59" y1="101.66" x2="247.59" y2="98.14" stroke="#645a7a" stroke-width="1.3"/><line x1="249.37" y1="104.51" x2="249.37" y2="95.29" stroke="#454c60" stroke-width="1.3"/><line x1="251.15" y1="105.60" x2="251.15" y2="94.20" stroke="#848ca4" stroke-width="1.3"/><line x1="252.93" y1="104.51" x2="252.93" y2="95.29" stroke="#565068" stroke-width="1.3"/><line x1="254.71" y1="101.66" x2="254.71" y2="98.14" stroke="#48546c" stroke-width="1.3"/><line x1="256.49" y1="98.14" x2="256.49" y2="101.66" stroke="#aab2c6" stroke-width="1.3"/><line x1="258.27" y1="95.29" x2="258.27" y2="104.51" stroke="#645a7a" stroke-width="1.3"/><line x1="260.05" y1="94.20" x2="260.05" y2="105.60" stroke="#454c60" stroke-width="1.3"/><line x1="261.83" y1="95.29" x2="261.83" y2="104.51" stroke="#848ca4" stroke-width="1.3"/><line x1="263.61" y1="98.14" x2="263.61" y2="101.66" stroke="#565068" stroke-width="1.3"/><line x1="265.39" y1="101.66" x2="265.39" y2="98.14" stroke="#48546c" stroke-width="1.3"/><line x1="267.17" y1="104.51" x2="267.17" y2="95.29" stroke="#aab2c6" stroke-width="1.3"/><line x1="268.95" y1="105.60" x2="268.95" y2="94.20" stroke="#645a7a" stroke-width="1.3"/><line x1="270.73" y1="104.51" x2="270.73" y2="95.29" stroke="#454c60" stroke-width="1.3"/><line x1="272.51" y1="101.66" x2="272.51" y2="98.14" stroke="#848ca4" stroke-width="1.3"/><path d="M237.00,99.90 L237.15,99.60 L237.30,99.30 L237.45,99.01 L237.61,98.71 L237.77,98.42 L237.93,98.14 L238.09,97.86 L238.26,97.58 L238.42,97.31 L238.59,97.05 L238.76,96.80 L238.93,96.55 L239.11,96.31 L239.28,96.09 L239.46,95.87 L239.64,95.66 L239.82,95.47 L240.00,95.29 L240.18,95.12 L240.37,94.96 L240.55,94.82 L240.74,94.69 L240.92,94.58 L241.11,94.48 L241.30,94.39 L241.49,94.32 L241.68,94.27 L241.87,94.23 L242.06,94.21 L242.25,94.20 L242.44,94.21" fill="none" stroke="#3a382e" stroke-width="2.6" stroke-linecap="round"/><path d="M237.00,99.90 L237.15,99.60 L237.30,99.30 L237.45,99.01 L237.61,98.71 L237.77,98.42 L237.93,98.14 L238.09,97.86 L238.26,97.58 L238.42,97.31 L238.59,97.05 L238.76,96.80 L238.93,96.55 L239.11,96.31 L239.28,96.09 L239.46,95.87 L239.64,95.66 L239.82,95.47 L240.00,95.29 L240.18,95.12 L240.37,94.96 L240.55,94.82 L240.74,94.69 L240.92,94.58 L241.11,94.48 L241.30,94.39 L241.49,94.32 L241.68,94.27 L241.87,94.23 L242.06,94.21 L242.25,94.20 L242.44,94.21" fill="none" stroke="#a08a50" stroke-width="1.4" stroke-linecap="round"/><path d="M251.26,105.59 L251.36,105.57 L251.47,105.53 L251.58,105.48 L251.68,105.41 L251.79,105.32 L251.90,105.22 L252.01,105.11 L252.12,104.98 L252.23,104.84 L252.35,104.68 L252.46,104.51 L252.58,104.33 L252.69,104.14 L252.81,103.93 L252.93,103.71 L253.05,103.49 L253.17,103.25 L253.30,103.00 L253.43,102.75 L253.55,102.49 L253.68,102.22 L253.82,101.94 L253.95,101.66 L254.09,101.38 L254.23,101.09 L254.37,100.79 L254.51,100.50 L254.65,100.20 L254.80,99.90 L254.95,99.60 L255.10,99.30 L255.26,99.01 L255.41,98.71 L255.57,98.42 L255.73,98.14 L255.89,97.86 L256.06,97.58 L256.22,97.31 L256.39,97.05 L256.56,96.80 L256.73,96.55 L256.91,96.31 L257.08,96.09 L257.26,95.87 L257.44,95.66 L257.62,95.47 L257.80,95.29 L257.98,95.12 L258.17,94.96 L258.35,94.82 L258.54,94.69 L258.73,94.58 L258.91,94.48 L259.10,94.39 L259.29,94.32 L259.48,94.27 L259.67,94.23 L259.86,94.21 L260.05,94.20 L260.24,94.21" fill="none" stroke="#3a382e" stroke-width="2.6" stroke-linecap="round"/><path d="M251.26,105.59 L251.36,105.57 L251.47,105.53 L251.58,105.48 L251.68,105.41 L251.79,105.32 L251.90,105.22 L252.01,105.11 L252.12,104.98 L252.23,104.84 L252.35,104.68 L252.46,104.51 L252.58,104.33 L252.69,104.14 L252.81,103.93 L252.93,103.71 L253.05,103.49 L253.17,103.25 L253.30,103.00 L253.43,102.75 L253.55,102.49 L253.68,102.22 L253.82,101.94 L253.95,101.66 L254.09,101.38 L254.23,101.09 L254.37,100.79 L254.51,100.50 L254.65,100.20 L254.80,99.90 L254.95,99.60 L255.10,99.30 L255.26,99.01 L255.41,98.71 L255.57,98.42 L255.73,98.14 L255.89,97.86 L256.06,97.58 L256.22,97.31 L256.39,97.05 L256.56,96.80 L256.73,96.55 L256.91,96.31 L257.08,96.09 L257.26,95.87 L257.44,95.66 L257.62,95.47 L257.80,95.29 L257.98,95.12 L258.17,94.96 L258.35,94.82 L258.54,94.69 L258.73,94.58 L258.91,94.48 L259.10,94.39 L259.29,94.32 L259.48,94.27 L259.67,94.23 L259.86,94.21 L260.05,94.20 L260.24,94.21" fill="none" stroke="#a08a50" stroke-width="1.4" stroke-linecap="round"/><path d="M269.06,105.59 L269.16,105.57 L269.27,105.53 L269.38,105.48 L269.49,105.41 L269.60,105.32 L269.70,105.22 L269.81,105.11 L269.92,104.98 L270.04,104.84 L270.15,104.68 L270.26,104.51 L270.38,104.33 L270.49,104.14 L270.61,103.93 L270.73,103.71 L270.85,103.49 L270.98,103.25 L271.10,103.00 L271.23,102.75 L271.36,102.49 L271.49,102.22 L271.62,101.94 L271.75,101.66 L271.89,101.38 L272.03,101.09 L272.17,100.79 L272.31,100.50 L272.46,100.20 L272.60,99.90" fill="none" stroke="#3a382e" stroke-width="2.6" stroke-linecap="round"/><path d="M269.06,105.59 L269.16,105.57 L269.27,105.53 L269.38,105.48 L269.49,105.41 L269.60,105.32 L269.70,105.22 L269.81,105.11 L269.92,104.98 L270.04,104.84 L270.15,104.68 L270.26,104.51 L270.38,104.33 L270.49,104.14 L270.61,103.93 L270.73,103.71 L270.85,103.49 L270.98,103.25 L271.10,103.00 L271.23,102.75 L271.36,102.49 L271.49,102.22 L271.62,101.94 L271.75,101.66 L271.89,101.38 L272.03,101.09 L272.17,100.79 L272.31,100.50 L272.46,100.20 L272.60,99.90" fill="none" stroke="#a08a50" stroke-width="1.4" stroke-linecap="round"/><path d="M242.36,105.59 L242.46,105.57 L242.57,105.53 L242.68,105.48 L242.78,105.41 L242.89,105.32 L243.00,105.22 L243.11,105.11 L243.22,104.98 L243.33,104.84 L243.45,104.68 L243.56,104.51 L243.67,104.33 L243.79,104.14 L243.91,103.93 L244.03,103.71 L244.15,103.49 L244.27,103.25 L244.40,103.00 L244.52,102.75 L244.65,102.49 L244.78,102.22 L244.92,101.94 L245.05,101.66 L245.19,101.38 L245.33,101.09 L245.47,100.79 L245.61,100.50 L245.75,100.20 L245.90,99.90 L246.05,99.60 L246.20,99.30 L246.36,99.01 L246.51,98.71 L246.67,98.42 L246.83,98.14 L246.99,97.86 L247.16,97.58 L247.32,97.31 L247.49,97.05 L247.66,96.80 L247.83,96.55 L248.01,96.31 L248.18,96.09 L248.36,95.87 L248.54,95.66 L248.72,95.47 L248.90,95.29 L249.08,95.12 L249.27,94.96 L249.45,94.82 L249.64,94.69 L249.83,94.58 L250.01,94.48 L250.20,94.39 L250.39,94.32 L250.58,94.27 L250.77,94.23 L250.96,94.21 L251.15,94.20 L251.34,94.21" fill="none" stroke="#3a382e" stroke-width="2.6" stroke-linecap="round"/><path d="M242.36,105.59 L242.46,105.57 L242.57,105.53 L242.68,105.48 L242.78,105.41 L242.89,105.32 L243.00,105.22 L243.11,105.11 L243.22,104.98 L243.33,104.84 L243.45,104.68 L243.56,104.51 L243.67,104.33 L243.79,104.14 L243.91,103.93 L244.03,103.71 L244.15,103.49 L244.27,103.25 L244.40,103.00 L244.52,102.75 L244.65,102.49 L244.78,102.22 L244.92,101.94 L245.05,101.66 L245.19,101.38 L245.33,101.09 L245.47,100.79 L245.61,100.50 L245.75,100.20 L245.90,99.90 L246.05,99.60 L246.20,99.30 L246.36,99.01 L246.51,98.71 L246.67,98.42 L246.83,98.14 L246.99,97.86 L247.16,97.58 L247.32,97.31 L247.49,97.05 L247.66,96.80 L247.83,96.55 L248.01,96.31 L248.18,96.09 L248.36,95.87 L248.54,95.66 L248.72,95.47 L248.90,95.29 L249.08,95.12 L249.27,94.96 L249.45,94.82 L249.64,94.69 L249.83,94.58 L250.01,94.48 L250.20,94.39 L250.39,94.32 L250.58,94.27 L250.77,94.23 L250.96,94.21 L251.15,94.20 L251.34,94.21" fill="none" stroke="#a08a50" stroke-width="1.4" stroke-linecap="round"/><path d="M260.16,105.59 L260.26,105.57 L260.37,105.53 L260.48,105.48 L260.59,105.41 L260.69,105.32 L260.80,105.22 L260.91,105.11 L261.02,104.98 L261.13,104.84 L261.25,104.68 L261.36,104.51 L261.48,104.33 L261.59,104.14 L261.71,103.93 L261.83,103.71 L261.95,103.49 L262.08,103.25 L262.20,103.00 L262.33,102.75 L262.45,102.49 L262.59,102.22 L262.72,101.94 L262.85,101.66 L262.99,101.38 L263.13,101.09 L263.27,100.79 L263.41,100.50 L263.56,100.20 L263.70,99.90 L263.85,99.60 L264.00,99.30 L264.16,99.01 L264.31,98.71 L264.47,98.42 L264.63,98.14 L264.79,97.86 L264.96,97.58 L265.13,97.31 L265.29,97.05 L265.46,96.80 L265.64,96.55 L265.81,96.31 L265.98,96.09 L266.16,95.87 L266.34,95.66 L266.52,95.47 L266.70,95.29 L266.89,95.12 L267.07,94.96 L267.25,94.82 L267.44,94.69 L267.63,94.58 L267.81,94.48 L268.00,94.39 L268.19,94.32 L268.38,94.27 L268.57,94.23 L268.76,94.21 L268.95,94.20 L269.14,94.21" fill="none" stroke="#3a382e" stroke-width="2.6" stroke-linecap="round"/><path d="M260.16,105.59 L260.26,105.57 L260.37,105.53 L260.48,105.48 L260.59,105.41 L260.69,105.32 L260.80,105.22 L260.91,105.11 L261.02,104.98 L261.13,104.84 L261.25,104.68 L261.36,104.51 L261.48,104.33 L261.59,104.14 L261.71,103.93 L261.83,103.71 L261.95,103.49 L262.08,103.25 L262.20,103.00 L262.33,102.75 L262.45,102.49 L262.59,102.22 L262.72,101.94 L262.85,101.66 L262.99,101.38 L263.13,101.09 L263.27,100.79 L263.41,100.50 L263.56,100.20 L263.70,99.90 L263.85,99.60 L264.00,99.30 L264.16,99.01 L264.31,98.71 L264.47,98.42 L264.63,98.14 L264.79,97.86 L264.96,97.58 L265.13,97.31 L265.29,97.05 L265.46,96.80 L265.64,96.55 L265.81,96.31 L265.98,96.09 L266.16,95.87 L266.34,95.66 L266.52,95.47 L266.70,95.29 L266.89,95.12 L267.07,94.96 L267.25,94.82 L267.44,94.69 L267.63,94.58 L267.81,94.48 L268.00,94.39 L268.19,94.32 L268.38,94.27 L268.57,94.23 L268.76,94.21 L268.95,94.20 L269.14,94.21" fill="none" stroke="#a08a50" stroke-width="1.4" stroke-linecap="round"/><path d="M242.44,94.21 L242.63,94.23 L242.82,94.27 L243.01,94.32 L243.20,94.39 L243.39,94.48 L243.57,94.58 L243.76,94.69 L243.95,94.82 L244.13,94.96 L244.31,95.12 L244.50,95.29 L244.68,95.47 L244.86,95.66 L245.04,95.87 L245.22,96.09 L245.39,96.31 L245.56,96.55 L245.74,96.80 L245.91,97.05 L246.07,97.31 L246.24,97.58 L246.41,97.86 L246.57,98.14 L246.73,98.42 L246.89,98.71 L247.04,99.01 L247.20,99.30 L247.35,99.60 L247.50,99.90 L247.64,100.20 L247.79,100.50 L247.93,100.79 L248.07,101.09 L248.21,101.38 L248.35,101.66 L248.48,101.94 L248.61,102.22 L248.75,102.49 L248.87,102.75 L249.00,103.00 L249.12,103.25 L249.25,103.49 L249.37,103.71 L249.49,103.93 L249.61,104.14 L249.72,104.33 L249.84,104.51 L249.95,104.68 L250.06,104.84 L250.18,104.98 L250.29,105.11 L250.40,105.22 L250.51,105.32 L250.61,105.41 L250.72,105.48 L250.83,105.53 L250.94,105.57 L251.04,105.59 L251.15,105.60 L251.26,105.59" fill="none" stroke="#3a382e" stroke-width="2.6" stroke-linecap="round"/><path d="M242.44,94.21 L242.63,94.23 L242.82,94.27 L243.01,94.32 L243.20,94.39 L243.39,94.48 L243.57,94.58 L243.76,94.69 L243.95,94.82 L244.13,94.96 L244.31,95.12 L244.50,95.29 L244.68,95.47 L244.86,95.66 L245.04,95.87 L245.22,96.09 L245.39,96.31 L245.56,96.55 L245.74,96.80 L245.91,97.05 L246.07,97.31 L246.24,97.58 L246.41,97.86 L246.57,98.14 L246.73,98.42 L246.89,98.71 L247.04,99.01 L247.20,99.30 L247.35,99.60 L247.50,99.90 L247.64,100.20 L247.79,100.50 L247.93,100.79 L248.07,101.09 L248.21,101.38 L248.35,101.66 L248.48,101.94 L248.61,102.22 L248.75,102.49 L248.87,102.75 L249.00,103.00 L249.12,103.25 L249.25,103.49 L249.37,103.71 L249.49,103.93 L249.61,104.14 L249.72,104.33 L249.84,104.51 L249.95,104.68 L250.06,104.84 L250.18,104.98 L250.29,105.11 L250.40,105.22 L250.51,105.32 L250.61,105.41 L250.72,105.48 L250.83,105.53 L250.94,105.57 L251.04,105.59 L251.15,105.60 L251.26,105.59" fill="none" stroke="#dcc57a" stroke-width="1.4" stroke-linecap="round"/><path d="M260.24,94.21 L260.43,94.23 L260.62,94.27 L260.81,94.32 L261.00,94.39 L261.19,94.48 L261.37,94.58 L261.56,94.69 L261.75,94.82 L261.93,94.96 L262.12,95.12 L262.30,95.29 L262.48,95.47 L262.66,95.66 L262.84,95.87 L263.02,96.09 L263.19,96.31 L263.37,96.55 L263.54,96.80 L263.71,97.05 L263.88,97.31 L264.04,97.58 L264.21,97.86 L264.37,98.14 L264.53,98.42 L264.69,98.71 L264.84,99.01 L265.00,99.30 L265.15,99.60 L265.30,99.90 L265.45,100.20 L265.59,100.50 L265.73,100.79 L265.87,101.09 L266.01,101.38 L266.15,101.66 L266.28,101.94 L266.42,102.22 L266.55,102.49 L266.68,102.75 L266.80,103.00 L266.93,103.25 L267.05,103.49 L267.17,103.71 L267.29,103.93 L267.41,104.14 L267.53,104.33 L267.64,104.51 L267.75,104.68 L267.87,104.84 L267.98,104.98 L268.09,105.11 L268.20,105.22 L268.31,105.32 L268.42,105.41 L268.52,105.48 L268.63,105.53 L268.74,105.57 L268.84,105.59 L268.95,105.60 L269.06,105.59" fill="none" stroke="#3a382e" stroke-width="2.6" stroke-linecap="round"/><path d="M260.24,94.21 L260.43,94.23 L260.62,94.27 L260.81,94.32 L261.00,94.39 L261.19,94.48 L261.37,94.58 L261.56,94.69 L261.75,94.82 L261.93,94.96 L262.12,95.12 L262.30,95.29 L262.48,95.47 L262.66,95.66 L262.84,95.87 L263.02,96.09 L263.19,96.31 L263.37,96.55 L263.54,96.80 L263.71,97.05 L263.88,97.31 L264.04,97.58 L264.21,97.86 L264.37,98.14 L264.53,98.42 L264.69,98.71 L264.84,99.01 L265.00,99.30 L265.15,99.60 L265.30,99.90 L265.45,100.20 L265.59,100.50 L265.73,100.79 L265.87,101.09 L266.01,101.38 L266.15,101.66 L266.28,101.94 L266.42,102.22 L266.55,102.49 L266.68,102.75 L266.80,103.00 L266.93,103.25 L267.05,103.49 L267.17,103.71 L267.29,103.93 L267.41,104.14 L267.53,104.33 L267.64,104.51 L267.75,104.68 L267.87,104.84 L267.98,104.98 L268.09,105.11 L268.20,105.22 L268.31,105.32 L268.42,105.41 L268.52,105.48 L268.63,105.53 L268.74,105.57 L268.84,105.59 L268.95,105.60 L269.06,105.59" fill="none" stroke="#dcc57a" stroke-width="1.4" stroke-linecap="round"/><path d="M238.60,99.90 L238.74,100.20 L238.89,100.50 L239.03,100.79 L239.17,101.09 L239.31,101.38 L239.45,101.66 L239.58,101.94 L239.71,102.22 L239.84,102.49 L239.97,102.75 L240.10,103.00 L240.22,103.25 L240.35,103.49 L240.47,103.71 L240.59,103.93 L240.71,104.14 L240.82,104.33 L240.94,104.51 L241.05,104.68 L241.16,104.84 L241.28,104.98 L241.39,105.11 L241.50,105.22 L241.60,105.32 L241.71,105.41 L241.82,105.48 L241.93,105.53 L242.04,105.57 L242.14,105.59 L242.25,105.60 L242.36,105.59" fill="none" stroke="#3a382e" stroke-width="2.6" stroke-linecap="round"/><path d="M238.60,99.90 L238.74,100.20 L238.89,100.50 L239.03,100.79 L239.17,101.09 L239.31,101.38 L239.45,101.66 L239.58,101.94 L239.71,102.22 L239.84,102.49 L239.97,102.75 L240.10,103.00 L240.22,103.25 L240.35,103.49 L240.47,103.71 L240.59,103.93 L240.71,104.14 L240.82,104.33 L240.94,104.51 L241.05,104.68 L241.16,104.84 L241.28,104.98 L241.39,105.11 L241.50,105.22 L241.60,105.32 L241.71,105.41 L241.82,105.48 L241.93,105.53 L242.04,105.57 L242.14,105.59 L242.25,105.60 L242.36,105.59" fill="none" stroke="#dcc57a" stroke-width="1.4" stroke-linecap="round"/><path d="M251.34,94.21 L251.53,94.23 L251.72,94.27 L251.91,94.32 L252.10,94.39 L252.29,94.48 L252.47,94.58 L252.66,94.69 L252.85,94.82 L253.03,94.96 L253.22,95.12 L253.40,95.29 L253.58,95.47 L253.76,95.66 L253.94,95.87 L254.12,96.09 L254.29,96.31 L254.47,96.55 L254.64,96.80 L254.81,97.05 L254.98,97.31 L255.14,97.58 L255.31,97.86 L255.47,98.14 L255.63,98.42 L255.79,98.71 L255.94,99.01 L256.10,99.30 L256.25,99.60 L256.40,99.90 L256.55,100.20 L256.69,100.50 L256.83,100.79 L256.97,101.09 L257.11,101.38 L257.25,101.66 L257.38,101.94 L257.52,102.22 L257.65,102.49 L257.77,102.75 L257.90,103.00 L258.03,103.25 L258.15,103.49 L258.27,103.71 L258.39,103.93 L258.51,104.14 L258.62,104.33 L258.74,104.51 L258.85,104.68 L258.97,104.84 L259.08,104.98 L259.19,105.11 L259.30,105.22 L259.41,105.32 L259.52,105.41 L259.62,105.48 L259.73,105.53 L259.84,105.57 L259.94,105.59 L260.05,105.60 L260.16,105.59" fill="none" stroke="#3a382e" stroke-width="2.6" stroke-linecap="round"/><path d="M251.34,94.21 L251.53,94.23 L251.72,94.27 L251.91,94.32 L252.10,94.39 L252.29,94.48 L252.47,94.58 L252.66,94.69 L252.85,94.82 L253.03,94.96 L253.22,95.12 L253.40,95.29 L253.58,95.47 L253.76,95.66 L253.94,95.87 L254.12,96.09 L254.29,96.31 L254.47,96.55 L254.64,96.80 L254.81,97.05 L254.98,97.31 L255.14,97.58 L255.31,97.86 L255.47,98.14 L255.63,98.42 L255.79,98.71 L255.94,99.01 L256.10,99.30 L256.25,99.60 L256.40,99.90 L256.55,100.20 L256.69,100.50 L256.83,100.79 L256.97,101.09 L257.11,101.38 L257.25,101.66 L257.38,101.94 L257.52,102.22 L257.65,102.49 L257.77,102.75 L257.90,103.00 L258.03,103.25 L258.15,103.49 L258.27,103.71 L258.39,103.93 L258.51,104.14 L258.62,104.33 L258.74,104.51 L258.85,104.68 L258.97,104.84 L259.08,104.98 L259.19,105.11 L259.30,105.22 L259.41,105.32 L259.52,105.41 L259.62,105.48 L259.73,105.53 L259.84,105.57 L259.94,105.59 L260.05,105.60 L260.16,105.59" fill="none" stroke="#dcc57a" stroke-width="1.4" stroke-linecap="round"/><path d="M269.14,94.21 L269.33,94.23 L269.52,94.27 L269.71,94.32 L269.90,94.39 L270.09,94.48 L270.28,94.58 L270.46,94.69 L270.65,94.82 L270.83,94.96 L271.02,95.12 L271.20,95.29 L271.38,95.47 L271.56,95.66 L271.74,95.87 L271.92,96.09 L272.09,96.31 L272.27,96.55 L272.44,96.80 L272.61,97.05 L272.78,97.31 L272.94,97.58 L273.11,97.86 L273.27,98.14 L273.43,98.42 L273.59,98.71 L273.75,99.01 L273.90,99.30 L274.05,99.60 L274.20,99.90" fill="none" stroke="#3a382e" stroke-width="2.6" stroke-linecap="round"/><path d="M269.14,94.21 L269.33,94.23 L269.52,94.27 L269.71,94.32 L269.90,94.39 L270.09,94.48 L270.28,94.58 L270.46,94.69 L270.65,94.82 L270.83,94.96 L271.02,95.12 L271.20,95.29 L271.38,95.47 L271.56,95.66 L271.74,95.87 L271.92,96.09 L272.09,96.31 L272.27,96.55 L272.44,96.80 L272.61,97.05 L272.78,97.31 L272.94,97.58 L273.11,97.86 L273.27,98.14 L273.43,98.42 L273.59,98.71 L273.75,99.01 L273.90,99.30 L274.05,99.60 L274.20,99.90" fill="none" stroke="#dcc57a" stroke-width="1.4" stroke-linecap="round"/>
<defs><radialGradient id="cy" cx="0.4" cy="0.35" r="0.7"><stop offset="0" stop-color="#f6cdd3"/><stop offset="1" stop-color="#dc8a98"/></radialGradient><linearGradient id="org" x1="0" y1="0" x2="1" y2="0"><stop offset="0" stop-color="#e29a6a"/><stop offset="0.5" stop-color="#b97846"/><stop offset="1" stop-color="#e29a6a"/></linearGradient><linearGradient id="blu" x1="0" y1="0" x2="0" y2="1"><stop offset="0" stop-color="#4a90d0"/><stop offset="1" stop-color="#2a68a8"/></linearGradient><linearGradient id="cbar" x1="0" y1="0" x2="0" y2="1"><stop offset="0" stop-color="#f4ec44"/><stop offset="0.1" stop-color="#f2c834"/><stop offset="0.22" stop-color="#ee9a30"/><stop offset="0.35" stop-color="#e8682c"/><stop offset="0.48" stop-color="#dc3a28"/><stop offset="0.6" stop-color="#cc2222"/><stop offset="0.75" stop-color="#a8141a"/><stop offset="0.9" stop-color="#781016"/><stop offset="1" stop-color="#420a0e"/></linearGradient></defs>
<line x1="107" y1="70" x2="110" y2="74" stroke="#777" stroke-width="0.6"/>
<circle cx="106.7" cy="61.8" r="8.7" fill="url(#cy)"/>
<text x="106.4" y="64.8" font-size="9.4" fill="#6a2432" text-anchor="middle" textLength="15.2" lengthAdjust="spacingAndGlyphs">Cy3</text>
<circle cx="241.8" cy="84.4" r="8.6" fill="url(#cy)"/>
<text x="241.6" y="87.4" font-size="9.4" fill="#6a2432" text-anchor="middle" textLength="15.2" lengthAdjust="spacingAndGlyphs">Cy3</text>
<g stroke="#9cc4e4" stroke-width="0.6" fill="none"><path d="M184,94.3 L192.5,100"/><path d="M184,105.6 L192.5,100.3"/><path d="M234,100 L237.5,100"/><path d="M274,99.8 L278,99.8"/><path d="M319.5,98.9 L326,91.6"/><path d="M319.5,98.9 L326,106.3"/><path d="M204.4,100.2 L207.2,100.2"/><path d="M305,99.7 L308,99.7"/></g>
<path d="M167.10000000000002,90.7 L182.29999999999998,90.7 L184.1,94.35 L182.29999999999998,98.0 L167.10000000000002,98.0 L165.3,94.35 Z" fill="url(#blu)"/>
<path d="M167.10000000000002,102.1 L182.29999999999998,102.1 L184.1,105.6 L182.29999999999998,109.1 L167.10000000000002,109.1 L165.3,105.6 Z" fill="url(#blu)"/>
<path d="M327.6,88.1 L342.3,88.1 L344.1,91.6 L342.3,95.1 L327.6,95.1 L325.8,91.6 Z" fill="url(#blu)"/>
<path d="M327.6,103.0 L342.3,103.0 L344.1,106.35 L342.3,109.7 L327.6,109.7 L325.8,106.35 Z" fill="url(#blu)"/>
<ellipse cx="198.4" cy="100.2" rx="6" ry="3" fill="#8cbf6a"/>
<ellipse cx="313.9" cy="98.9" rx="5.9" ry="3.1" fill="#8cbf6a"/>
<rect x="207.2" y="97.0" width="26.6" height="6.5" fill="url(#org)"/>
<rect x="277.9" y="96.8" width="27.0" height="6.0" fill="url(#org)"/>
<text x="374.2" y="9.6" font-size="10.5" font-weight="bold" fill="#1a1a1a">b</text>
<text transform="translate(396.8,79.9) rotate(-90)" font-size="10.1" fill="#505050" text-anchor="middle" textLength="154.6" lengthAdjust="spacingAndGlyphs">Percentage of injected dose per gram</text>
<path d="M419.6,148 L419.6,12.3 L648.7,12.3 L648.7,148" fill="none" stroke="#999" stroke-width="0.8"/>
<line x1="419.6" y1="148.1" x2="648.7" y2="148.1" stroke="#888" stroke-width="0.9"/>
<line x1="419.4" y1="12.3" x2="419.4" y2="148.5" stroke="#8a8a8a" stroke-width="0.9"/>
<text x="416.6" y="152.30" font-size="10" fill="#505050" text-anchor="end">0</text>
<text x="416.6" y="135.32" font-size="10" fill="#505050" text-anchor="end">5</text>
<text x="416.6" y="118.35" font-size="10" fill="#505050" text-anchor="end">10</text>
<text x="416.6" y="101.37" font-size="10" fill="#505050" text-anchor="end">15</text>
<text x="416.6" y="84.40" font-size="10" fill="#505050" text-anchor="end">20</text>
<text x="416.6" y="67.42" font-size="10" fill="#505050" text-anchor="end">25</text>
<text x="416.6" y="50.45" font-size="10" fill="#505050" text-anchor="end">30</text>
<text x="416.6" y="33.47" font-size="10" fill="#505050" text-anchor="end">35</text>
<text x="416.6" y="16.50" font-size="10" fill="#505050" text-anchor="end">40</text>
<line x1="433.35" y1="41.60" x2="433.35" y2="36.00" stroke="#999" stroke-width="0.7"/>
<line x1="431.55" y1="36.00" x2="435.15" y2="36.00" stroke="#999" stroke-width="0.7"/>
<line x1="444.25" y1="67.70" x2="444.25" y2="56.40" stroke="#aaa" stroke-width="0.7"/>
<line x1="442.45" y1="56.40" x2="446.05" y2="56.40" stroke="#aaa" stroke-width="0.7"/>
<rect x="429.10" y="41.60" width="8.5" height="106.40" fill="#c5121f"/>
<rect x="440.00" y="67.70" width="8.5" height="80.30" fill="#bdbdbd"/>
<line x1="471.35" y1="106.30" x2="471.35" y2="95.00" stroke="#999" stroke-width="0.7"/>
<line x1="469.55" y1="95.00" x2="473.15" y2="95.00" stroke="#999" stroke-width="0.7"/>
<line x1="482.45" y1="106.00" x2="482.45" y2="87.30" stroke="#aaa" stroke-width="0.7"/>
<line x1="480.65" y1="87.30" x2="484.25" y2="87.30" stroke="#aaa" stroke-width="0.7"/>
<rect x="467.10" y="106.30" width="8.5" height="41.70" fill="#c5121f"/>
<rect x="478.20" y="106.00" width="8.5" height="42.00" fill="#bdbdbd"/>
<line x1="509.75" y1="56.10" x2="509.75" y2="50.50" stroke="#999" stroke-width="0.7"/>
<line x1="507.95" y1="50.50" x2="511.55" y2="50.50" stroke="#999" stroke-width="0.7"/>
<line x1="520.35" y1="67.40" x2="520.35" y2="63.00" stroke="#aaa" stroke-width="0.7"/>
<line x1="518.55" y1="63.00" x2="522.15" y2="63.00" stroke="#aaa" stroke-width="0.7"/>
<rect x="505.50" y="56.10" width="8.5" height="91.90" fill="#c5121f"/>
<rect x="516.10" y="67.40" width="8.5" height="80.60" fill="#bdbdbd"/>
<line x1="547.75" y1="127.90" x2="547.75" y2="124.40" stroke="#999" stroke-width="0.7"/>
<line x1="545.95" y1="124.40" x2="549.55" y2="124.40" stroke="#999" stroke-width="0.7"/>
<line x1="558.45" y1="134.90" x2="558.45" y2="131.60" stroke="#aaa" stroke-width="0.7"/>
<line x1="556.65" y1="131.60" x2="560.25" y2="131.60" stroke="#aaa" stroke-width="0.7"/>
<rect x="543.50" y="127.90" width="8.5" height="20.10" fill="#c5121f"/>
<rect x="554.20" y="134.90" width="8.5" height="13.10" fill="#bdbdbd"/>
<line x1="586.05" y1="140.20" x2="586.05" y2="139.00" stroke="#999" stroke-width="0.7"/>
<line x1="584.25" y1="139.00" x2="587.85" y2="139.00" stroke="#999" stroke-width="0.7"/>
<line x1="596.85" y1="134.90" x2="596.85" y2="129.60" stroke="#aaa" stroke-width="0.7"/>
<line x1="595.05" y1="129.60" x2="598.65" y2="129.60" stroke="#aaa" stroke-width="0.7"/>
<rect x="581.80" y="140.20" width="8.5" height="7.80" fill="#c5121f"/>
<rect x="592.60" y="134.90" width="8.5" height="13.10" fill="#bdbdbd"/>
<line x1="624.25" y1="147.00" x2="624.25" y2="146.40" stroke="#999" stroke-width="0.7"/>
<line x1="622.45" y1="146.40" x2="626.05" y2="146.40" stroke="#999" stroke-width="0.7"/>
<line x1="635.15" y1="144.60" x2="635.15" y2="143.30" stroke="#aaa" stroke-width="0.7"/>
<line x1="633.35" y1="143.30" x2="636.95" y2="143.30" stroke="#aaa" stroke-width="0.7"/>
<rect x="620.00" y="147.00" width="8.5" height="1.00" fill="#c5121f"/>
<rect x="630.90" y="144.60" width="8.5" height="3.40" fill="#bdbdbd"/>
<g stroke="#8a8a8a" stroke-width="0.8"><line x1="433.1" y1="30.1" x2="433.1" y2="33.7"/><line x1="431.5" y1="31.0" x2="434.7" y2="32.8"/><line x1="431.5" y1="32.8" x2="434.7" y2="31.0"/></g>
<text transform="translate(440.50,156.10) rotate(-45)" font-size="9.4" fill="#505050" text-anchor="end">Liver</text>
<text transform="translate(479.10,156.10) rotate(-45)" font-size="9.4" fill="#505050" text-anchor="end">Spleen</text>
<text transform="translate(517.60,156.10) rotate(-45)" font-size="9.4" fill="#505050" text-anchor="end">Kidney</text>
<text transform="translate(557.30,156.10) rotate(-45)" font-size="9.4" fill="#505050" text-anchor="end">Lung</text>
<text transform="translate(595.00,156.10) rotate(-45)" font-size="9.4" fill="#505050" text-anchor="end">Heart</text>
<text transform="translate(632.30,156.10) rotate(-45)" font-size="9.4" fill="#505050" text-anchor="end">Brain</text>
<rect x="568.2" y="25.7" width="6" height="6" fill="#c5121f"/>
<rect x="568.2" y="43.4" width="6" height="6" fill="#bdbdbd"/>
<text x="577.4" y="31.8" font-size="8.9" fill="#505050" textLength="50" lengthAdjust="spacingAndGlyphs">DART−Nrf2</text>
<text x="577.4" y="49.6" font-size="8.9" fill="#505050" textLength="18.6" lengthAdjust="spacingAndGlyphs">Nrf2</text>
<text x="411.6" y="210.3" font-size="9.8" fill="#505050" text-anchor="end" textLength="50" lengthAdjust="spacingAndGlyphs">DART−Nrf2</text>
<text x="411.8" y="244.6" font-size="10" fill="#505050" text-anchor="end" textLength="37.6" lengthAdjust="spacingAndGlyphs">Free Nrf2</text>
<defs><filter id="bl1" x="-30%" y="-30%" width="160%" height="160%"><feGaussianBlur stdDeviation="0.9"/></filter><filter id="bl2" x="-50%" y="-50%" width="200%" height="200%"><feGaussianBlur stdDeviation="2.2"/></filter><filter id="bl05" x="-30%" y="-30%" width="160%" height="160%"><feGaussianBlur stdDeviation="0.5"/></filter><filter id="bl15" x="-40%" y="-40%" width="180%" height="180%"><feGaussianBlur stdDeviation="1.5"/></filter><radialGradient id="wellg" cx="0.5" cy="0.5" r="0.5"><stop offset="0" stop-color="#222"/><stop offset="0.8" stop-color="#1e1e1e"/><stop offset="0.93" stop-color="#2a2a2a"/><stop offset="1" stop-color="#333"/></radialGradient><clipPath id="panel"><rect x="417.7" y="184.2" width="223.3" height="77.2"/></clipPath></defs>
<g clip-path="url(#panel)">
<defs><filter id="mott" x="417" y="184" width="225" height="78" filterUnits="userSpaceOnUse"><feTurbulence type="fractalNoise" baseFrequency="0.28" numOctaves="3" seed="11" result="noise"/><feColorMatrix in="noise" type="matrix" values="2.8 0 0 0 -0.9  2.8 0 0 0 -0.9  2.8 0 0 0 -0.9  0 0 0 0 1" result="ng"/><feComposite in="SourceGraphic" in2="ng" operator="arithmetic" k1="0.5" k2="0.5" k3="0" k4="0"/></filter></defs>
<rect x="417.7" y="184.2" width="223.3" height="77.2" fill="#3c3c3c" filter="url(#mott)"/>
<circle cx="436.0" cy="203.0" r="17" fill="#0a0a0a" opacity="0.4"/>
<circle cx="473.0" cy="203.0" r="17" fill="#0a0a0a" opacity="0.4"/>
<circle cx="510.0" cy="203.0" r="17" fill="#0a0a0a" opacity="0.4"/>
<circle cx="547.6" cy="203.0" r="17" fill="#0a0a0a" opacity="0.4"/>
<circle cx="584.5" cy="203.0" r="17" fill="#0a0a0a" opacity="0.4"/>
<circle cx="621.0" cy="203.0" r="17" fill="#0a0a0a" opacity="0.4"/>
<circle cx="436.0" cy="242.8" r="17" fill="#0a0a0a" opacity="0.4"/>
<circle cx="473.0" cy="242.8" r="17" fill="#0a0a0a" opacity="0.4"/>
<circle cx="510.0" cy="242.8" r="17" fill="#0a0a0a" opacity="0.4"/>
<circle cx="547.2" cy="242.8" r="17" fill="#0a0a0a" opacity="0.4"/>
<circle cx="583.8" cy="242.8" r="17" fill="#0a0a0a" opacity="0.4"/>
<circle cx="620.2" cy="242.8" r="17" fill="#0a0a0a" opacity="0.4"/>
<defs><clipPath id="liv1"><path d="M436,188 C445,187.8 451.3,193 451.2,200.5 C451.1,203.5 449,204.8 447,205 C444.5,205.5 443.5,208 445.5,211 C446.5,213 443,216.5 437,217.6 C428,218.5 420.6,212 420.6,203 C420.8,194.5 427.5,188.2 436,188 Z"/></clipPath></defs>
<path d="M436,188 C445,187.8 451.3,193 451.2,200.5 C451.1,203.5 449,204.8 447,205 C444.5,205.5 443.5,208 445.5,211 C446.5,213 443,216.5 437,217.6 C428,218.5 420.6,212 420.6,203 C420.8,194.5 427.5,188.2 436,188 Z" fill="#b01616" filter="url(#bl1)"/>
<g clip-path="url(#liv1)">
<ellipse cx="436" cy="202.5" rx="12.5" ry="12" fill="#e0221e" filter="url(#bl2)"/>
<ellipse cx="435.6" cy="206.2" rx="9.4" ry="8.6" fill="#f07020" filter="url(#bl15)"/>
<path d="M430.5,200.2 C435,198.8 441.5,199.0 441.8,202.6 C442.0,206.8 440,211.8 435.2,212.6 C430.8,213.2 428.4,210.4 428.7,206.2 C428.9,203.0 429.0,200.8 430.5,200.2 Z" fill="#f2e420" filter="url(#bl1)"/>
</g>
<defs><clipPath id="liv2"><path d="M438,225.8 C446.5,225.8 452,232.0 451.8,239.5 C451.7,242.0 450,243.2 447.5,242.8 C444.5,242.5 442.5,244.5 444.2,247.0 C445.2,248.8 442.5,251.5 437,252.0 C429.5,252.5 424.8,246.5 425.0,239.0 C425.2,231.5 430.5,225.9 438,225.8 Z"/></clipPath></defs>
<path d="M438,225.8 C446.5,225.8 452,232.0 451.8,239.5 C451.7,242.0 450,243.2 447.5,242.8 C444.5,242.5 442.5,244.5 444.2,247.0 C445.2,248.8 442.5,251.5 437,252.0 C429.5,252.5 424.8,246.5 425.0,239.0 C425.2,231.5 430.5,225.9 438,225.8 Z" fill="#981212" filter="url(#bl1)"/>
<g clip-path="url(#liv2)">
<ellipse cx="437" cy="238.5" rx="11.5" ry="11" fill="#c21a1a" filter="url(#bl2)"/>
</g>
<g filter="url(#mott)">
<ellipse cx="475" cy="213.5" rx="8" ry="3" fill="#3c3c3c" filter="url(#bl1)"/>
<ellipse cx="506.2" cy="198.5" rx="4.6" ry="7" transform="rotate(30 506.2 198.5)" fill="#6f6f6f" filter="url(#bl1)"/>
<ellipse cx="513.8" cy="212.6" rx="8.4" ry="4.2" transform="rotate(-12 513.8 212.6)" fill="#8e8e8e" filter="url(#bl1)"/>
<path d="M535.8,193.5 C537,190 541,188.7 544.5,189 C549,189.2 553.5,190.0 556.5,192.0 C560,194.5 561.5,198.5 561.2,202 C560.8,206 560,210 557.5,212 C555,213 552.5,211.5 550,209.5 C546.5,206.5 543,203.5 540,200.8 C537.5,198.5 535.5,196 535.8,193.5 Z" fill="#aeaeae" filter="url(#bl1)"/>
<ellipse cx="548" cy="199" rx="5" ry="3.5" fill="#d2d2d2" filter="url(#bl1)"/>
<ellipse cx="554" cy="205" rx="3" ry="2.5" fill="#c8c8c8" filter="url(#bl1)"/>
<ellipse cx="540" cy="193" rx="2.5" ry="2" fill="#c2c2c2" filter="url(#bl1)"/>
<ellipse cx="576" cy="203" rx="4" ry="7" fill="#484848" filter="url(#bl2)"/>
<circle cx="587" cy="209" r="6" fill="#272727" filter="url(#bl2)"/>
<path d="M609,198 C608.5,192 613,188 619,187.8 C625,187.6 629.8,191 630.3,196.5 C630.6,201 628,204 624,206 C620,208.5 614,209.5 611,207.5 C609,205.5 609.2,201.5 609,198 Z" fill="#afafaf" filter="url(#bl1)"/>
<ellipse cx="616" cy="197" rx="5" ry="4" fill="#d4d4d4" filter="url(#bl1)"/>
<ellipse cx="624" cy="194" rx="3" ry="2.5" fill="#cbcbcb" filter="url(#bl1)"/>
<ellipse cx="473.5" cy="238" rx="7" ry="2.6" transform="rotate(45 473.5 238)" fill="#484848" filter="url(#bl1)"/>
<ellipse cx="507" cy="242.2" rx="10.4" ry="5" transform="rotate(10 507 242.2)" fill="#6b6b6b" filter="url(#bl1)"/>
<ellipse cx="501" cy="242" rx="4.5" ry="4" fill="#9a9a9a" filter="url(#bl1)"/>
<ellipse cx="508" cy="234.5" rx="3" ry="3.5" fill="#5d5d5d" filter="url(#bl1)"/>
<path d="M533.8,238.6 C537,235.5 539.5,231.5 543.2,230.3 C546.8,229.5 550,232 550.8,236 C551.3,239.5 549,242 547,244.5 C546,246.5 545.5,249 544.5,249 C543,248.5 541,244.5 538.5,242.5 C536.5,241 534,240.5 533.8,238.6 Z" fill="#c2c2c2" filter="url(#bl1)"/>
<ellipse cx="539.5" cy="238" rx="4" ry="3" fill="#d9d9d9" filter="url(#bl1)"/>
<ellipse cx="576" cy="248" rx="7.5" ry="4.5" fill="#555555" filter="url(#bl2)"/>
<ellipse cx="574" cy="247" rx="3" ry="2" fill="#6f6f6f" filter="url(#bl1)"/>
<path d="M612,231.5 C615.5,230.6 617.8,233 618.2,236.0 C620.5,238.5 623,241.5 622.8,246 C622.5,250.5 619.5,254 615.0,254 C610,253.8 606.5,250 606.2,245 C606.0,240.5 607.5,234 612,231.5 Z" fill="#acacac" filter="url(#bl1)"/>
<ellipse cx="611.5" cy="241" rx="3.8" ry="6" fill="#d6d6d6" filter="url(#bl1)"/>
</g>
<circle cx="436.0" cy="203.0" r="16.6" fill="none" stroke="#8e8e8e" stroke-width="1.2"/>
<circle cx="436.0" cy="203.0" r="14.8" fill="none" stroke="#5c5c5c" stroke-width="0.9"/>
<circle cx="428.53" cy="217.94" r="0.66" fill="#d8d8d8" opacity="0.52"/>
<circle cx="443.23" cy="187.95" r="0.65" fill="#d8d8d8" opacity="0.52"/>
<circle cx="419.32" cy="202.22" r="0.53" fill="#d8d8d8" opacity="0.67"/>
<circle cx="436.88" cy="217.97" r="0.67" fill="#d8d8d8" opacity="0.83"/>
<circle cx="447.90" cy="214.72" r="0.75" fill="#d8d8d8" opacity="0.73"/>
<circle cx="449.88" cy="208.68" r="0.66" fill="#d8d8d8" opacity="0.89"/>
<circle cx="451.99" cy="207.82" r="0.62" fill="#d8d8d8" opacity="0.56"/>
<circle cx="473.0" cy="203.0" r="16.6" fill="none" stroke="#8e8e8e" stroke-width="1.2"/>
<circle cx="473.0" cy="203.0" r="14.8" fill="none" stroke="#5c5c5c" stroke-width="0.9"/>
<circle cx="485.33" cy="214.26" r="0.72" fill="#d8d8d8" opacity="0.77"/>
<circle cx="484.96" cy="212.05" r="0.76" fill="#d8d8d8" opacity="0.65"/>
<circle cx="457.05" cy="198.07" r="0.73" fill="#d8d8d8" opacity="0.75"/>
<circle cx="458.00" cy="203.34" r="0.67" fill="#d8d8d8" opacity="0.63"/>
<circle cx="458.66" cy="194.45" r="0.64" fill="#d8d8d8" opacity="0.60"/>
<circle cx="480.13" cy="218.10" r="0.53" fill="#d8d8d8" opacity="0.62"/>
<circle cx="456.31" cy="203.51" r="0.79" fill="#d8d8d8" opacity="0.62"/>
<circle cx="510.0" cy="203.0" r="16.6" fill="none" stroke="#8e8e8e" stroke-width="1.2"/>
<circle cx="510.0" cy="203.0" r="14.8" fill="none" stroke="#5c5c5c" stroke-width="0.9"/>
<circle cx="526.57" cy="200.93" r="0.70" fill="#d8d8d8" opacity="0.57"/>
<circle cx="500.87" cy="216.98" r="0.67" fill="#d8d8d8" opacity="0.88"/>
<circle cx="523.25" cy="210.03" r="0.73" fill="#d8d8d8" opacity="0.85"/>
<circle cx="504.15" cy="216.81" r="0.64" fill="#d8d8d8" opacity="0.70"/>
<circle cx="514.85" cy="187.02" r="0.84" fill="#d8d8d8" opacity="0.88"/>
<circle cx="495.20" cy="205.43" r="0.53" fill="#d8d8d8" opacity="0.79"/>
<circle cx="504.51" cy="216.96" r="0.90" fill="#d8d8d8" opacity="0.83"/>
<circle cx="547.6" cy="203.0" r="16.6" fill="none" stroke="#8e8e8e" stroke-width="1.2"/>
<circle cx="547.6" cy="203.0" r="14.8" fill="none" stroke="#5c5c5c" stroke-width="0.9"/>
<circle cx="544.00" cy="219.31" r="0.85" fill="#d8d8d8" opacity="0.64"/>
<circle cx="563.15" cy="196.92" r="0.57" fill="#d8d8d8" opacity="0.55"/>
<circle cx="563.17" cy="209.05" r="0.55" fill="#d8d8d8" opacity="0.60"/>
<circle cx="534.67" cy="213.57" r="0.53" fill="#d8d8d8" opacity="0.68"/>
<circle cx="531.70" cy="197.90" r="0.83" fill="#d8d8d8" opacity="0.85"/>
<circle cx="544.63" cy="219.43" r="0.89" fill="#d8d8d8" opacity="0.77"/>
<circle cx="535.39" cy="214.40" r="0.56" fill="#d8d8d8" opacity="0.57"/>
<circle cx="584.5" cy="203.0" r="16.6" fill="none" stroke="#8e8e8e" stroke-width="1.2"/>
<circle cx="584.5" cy="203.0" r="14.8" fill="none" stroke="#5c5c5c" stroke-width="0.9"/>
<circle cx="586.39" cy="219.59" r="0.50" fill="#d8d8d8" opacity="0.83"/>
<circle cx="591.39" cy="218.21" r="0.50" fill="#d8d8d8" opacity="0.67"/>
<circle cx="574.28" cy="213.98" r="0.63" fill="#d8d8d8" opacity="0.55"/>
<circle cx="594.00" cy="191.39" r="0.76" fill="#d8d8d8" opacity="0.80"/>
<circle cx="570.05" cy="207.04" r="0.82" fill="#d8d8d8" opacity="0.66"/>
<circle cx="571.05" cy="212.90" r="0.69" fill="#d8d8d8" opacity="0.66"/>
<circle cx="590.59" cy="218.55" r="0.68" fill="#d8d8d8" opacity="0.54"/>
<circle cx="621.0" cy="203.0" r="16.6" fill="none" stroke="#8e8e8e" stroke-width="1.2"/>
<circle cx="621.0" cy="203.0" r="14.8" fill="none" stroke="#5c5c5c" stroke-width="0.9"/>
<circle cx="607.53" cy="193.12" r="0.50" fill="#d8d8d8" opacity="0.56"/>
<circle cx="634.42" cy="212.94" r="0.75" fill="#d8d8d8" opacity="0.53"/>
<circle cx="625.36" cy="219.12" r="0.56" fill="#d8d8d8" opacity="0.60"/>
<circle cx="611.41" cy="216.67" r="0.69" fill="#d8d8d8" opacity="0.55"/>
<circle cx="604.35" cy="204.25" r="0.69" fill="#d8d8d8" opacity="0.62"/>
<circle cx="630.26" cy="214.80" r="0.64" fill="#d8d8d8" opacity="0.61"/>
<circle cx="628.94" cy="188.31" r="0.71" fill="#d8d8d8" opacity="0.58"/>
<circle cx="436.0" cy="242.8" r="16.6" fill="none" stroke="#8e8e8e" stroke-width="1.2"/>
<circle cx="436.0" cy="242.8" r="14.8" fill="none" stroke="#5c5c5c" stroke-width="0.9"/>
<circle cx="451.95" cy="237.84" r="0.56" fill="#d8d8d8" opacity="0.72"/>
<circle cx="450.78" cy="245.34" r="0.62" fill="#d8d8d8" opacity="0.76"/>
<circle cx="450.04" cy="251.84" r="0.71" fill="#d8d8d8" opacity="0.86"/>
<circle cx="425.71" cy="255.95" r="0.71" fill="#d8d8d8" opacity="0.81"/>
<circle cx="427.99" cy="257.45" r="0.75" fill="#d8d8d8" opacity="0.82"/>
<circle cx="436.87" cy="226.12" r="0.82" fill="#d8d8d8" opacity="0.83"/>
<circle cx="434.94" cy="226.13" r="0.58" fill="#d8d8d8" opacity="0.70"/>
<circle cx="473.0" cy="242.8" r="16.6" fill="none" stroke="#8e8e8e" stroke-width="1.2"/>
<circle cx="473.0" cy="242.8" r="14.8" fill="none" stroke="#5c5c5c" stroke-width="0.9"/>
<circle cx="471.01" cy="226.22" r="0.82" fill="#d8d8d8" opacity="0.69"/>
<circle cx="478.20" cy="256.87" r="0.88" fill="#d8d8d8" opacity="0.68"/>
<circle cx="488.41" cy="236.36" r="0.88" fill="#d8d8d8" opacity="0.65"/>
<circle cx="476.08" cy="259.21" r="0.69" fill="#d8d8d8" opacity="0.64"/>
<circle cx="458.09" cy="244.43" r="0.84" fill="#d8d8d8" opacity="0.69"/>
<circle cx="464.41" cy="230.50" r="0.53" fill="#d8d8d8" opacity="0.76"/>
<circle cx="485.65" cy="234.74" r="0.80" fill="#d8d8d8" opacity="0.69"/>
<circle cx="510.0" cy="242.8" r="16.6" fill="none" stroke="#8e8e8e" stroke-width="1.2"/>
<circle cx="510.0" cy="242.8" r="14.8" fill="none" stroke="#5c5c5c" stroke-width="0.9"/>
<circle cx="516.51" cy="256.31" r="0.63" fill="#d8d8d8" opacity="0.82"/>
<circle cx="526.44" cy="239.84" r="0.69" fill="#d8d8d8" opacity="0.80"/>
<circle cx="524.38" cy="251.29" r="0.57" fill="#d8d8d8" opacity="0.55"/>
<circle cx="519.72" cy="256.38" r="0.82" fill="#d8d8d8" opacity="0.56"/>
<circle cx="517.72" cy="227.99" r="0.76" fill="#d8d8d8" opacity="0.64"/>
<circle cx="494.07" cy="237.77" r="0.51" fill="#d8d8d8" opacity="0.82"/>
<circle cx="507.53" cy="226.28" r="0.71" fill="#d8d8d8" opacity="0.87"/>
<circle cx="547.2" cy="242.8" r="16.6" fill="none" stroke="#8e8e8e" stroke-width="1.2"/>
<circle cx="547.2" cy="242.8" r="14.8" fill="none" stroke="#5c5c5c" stroke-width="0.9"/>
<circle cx="531.92" cy="249.55" r="0.83" fill="#d8d8d8" opacity="0.58"/>
<circle cx="547.01" cy="259.50" r="0.70" fill="#d8d8d8" opacity="0.81"/>
<circle cx="540.31" cy="256.12" r="0.67" fill="#d8d8d8" opacity="0.55"/>
<circle cx="561.30" cy="233.85" r="0.86" fill="#d8d8d8" opacity="0.76"/>
<circle cx="553.16" cy="229.04" r="0.67" fill="#d8d8d8" opacity="0.87"/>
<circle cx="532.20" cy="242.64" r="0.56" fill="#d8d8d8" opacity="0.70"/>
<circle cx="558.84" cy="230.83" r="0.74" fill="#d8d8d8" opacity="0.81"/>
<circle cx="583.8" cy="242.8" r="16.6" fill="none" stroke="#8e8e8e" stroke-width="1.2"/>
<circle cx="583.8" cy="242.8" r="14.8" fill="none" stroke="#5c5c5c" stroke-width="0.9"/>
<circle cx="593.63" cy="256.30" r="0.69" fill="#d8d8d8" opacity="0.79"/>
<circle cx="568.14" cy="237.00" r="0.77" fill="#d8d8d8" opacity="0.71"/>
<circle cx="567.20" cy="244.63" r="0.85" fill="#d8d8d8" opacity="0.52"/>
<circle cx="589.82" cy="258.38" r="0.81" fill="#d8d8d8" opacity="0.70"/>
<circle cx="568.34" cy="236.48" r="0.68" fill="#d8d8d8" opacity="0.75"/>
<circle cx="568.81" cy="242.28" r="0.58" fill="#d8d8d8" opacity="0.61"/>
<circle cx="567.12" cy="241.94" r="0.70" fill="#d8d8d8" opacity="0.60"/>
<circle cx="620.2" cy="242.8" r="16.6" fill="none" stroke="#8e8e8e" stroke-width="1.2"/>
<circle cx="620.2" cy="242.8" r="14.8" fill="none" stroke="#5c5c5c" stroke-width="0.9"/>
<circle cx="603.68" cy="240.37" r="0.87" fill="#d8d8d8" opacity="0.86"/>
<circle cx="625.10" cy="258.76" r="0.55" fill="#d8d8d8" opacity="0.55"/>
<circle cx="604.59" cy="248.74" r="0.77" fill="#d8d8d8" opacity="0.67"/>
<circle cx="624.08" cy="259.04" r="0.81" fill="#d8d8d8" opacity="0.86"/>
<circle cx="628.67" cy="255.18" r="0.76" fill="#d8d8d8" opacity="0.65"/>
<circle cx="619.87" cy="259.50" r="0.89" fill="#d8d8d8" opacity="0.59"/>
<circle cx="636.16" cy="237.89" r="0.85" fill="#d8d8d8" opacity="0.57"/>
<rect x="472.4" y="184.2" width="1.2" height="2.6" fill="#b8b8b8"/>
<rect x="584.4" y="184.2" width="1.2" height="2.6" fill="#b8b8b8"/>
</g>
<rect x="417.7" y="221.3" width="223.3" height="2.0" fill="#f6f6f6"/>
<rect x="528.4" y="184.2" width="1.4" height="8.4" fill="#eee"/>
<rect x="643.7" y="183.4" width="4.6" height="80.0" fill="url(#cbar)"/>
<line x1="648.0" y1="186" x2="648.0" y2="262" stroke="#f4f4f4" stroke-width="0.6" stroke-dasharray="0.8 4.2" opacity="0.8"/>
<text x="652.9" y="188.0" font-size="10.4" fill="#505050" textLength="11.2" lengthAdjust="spacingAndGlyphs">1.2</text>
<text x="653.1" y="226.8" font-size="10.4" fill="#505050" textLength="14.0" lengthAdjust="spacingAndGlyphs">0.9</text>
<text x="653.1" y="265.6" font-size="10.4" fill="#505050" textLength="13.6" lengthAdjust="spacingAndGlyphs">0.5</text>
<text transform="translate(675.8,223.7) rotate(90)" font-size="10.2" fill="#505050" text-anchor="middle" textLength="74.2" lengthAdjust="spacingAndGlyphs">Radiant efficiency</text>
</svg>
</body></html>
